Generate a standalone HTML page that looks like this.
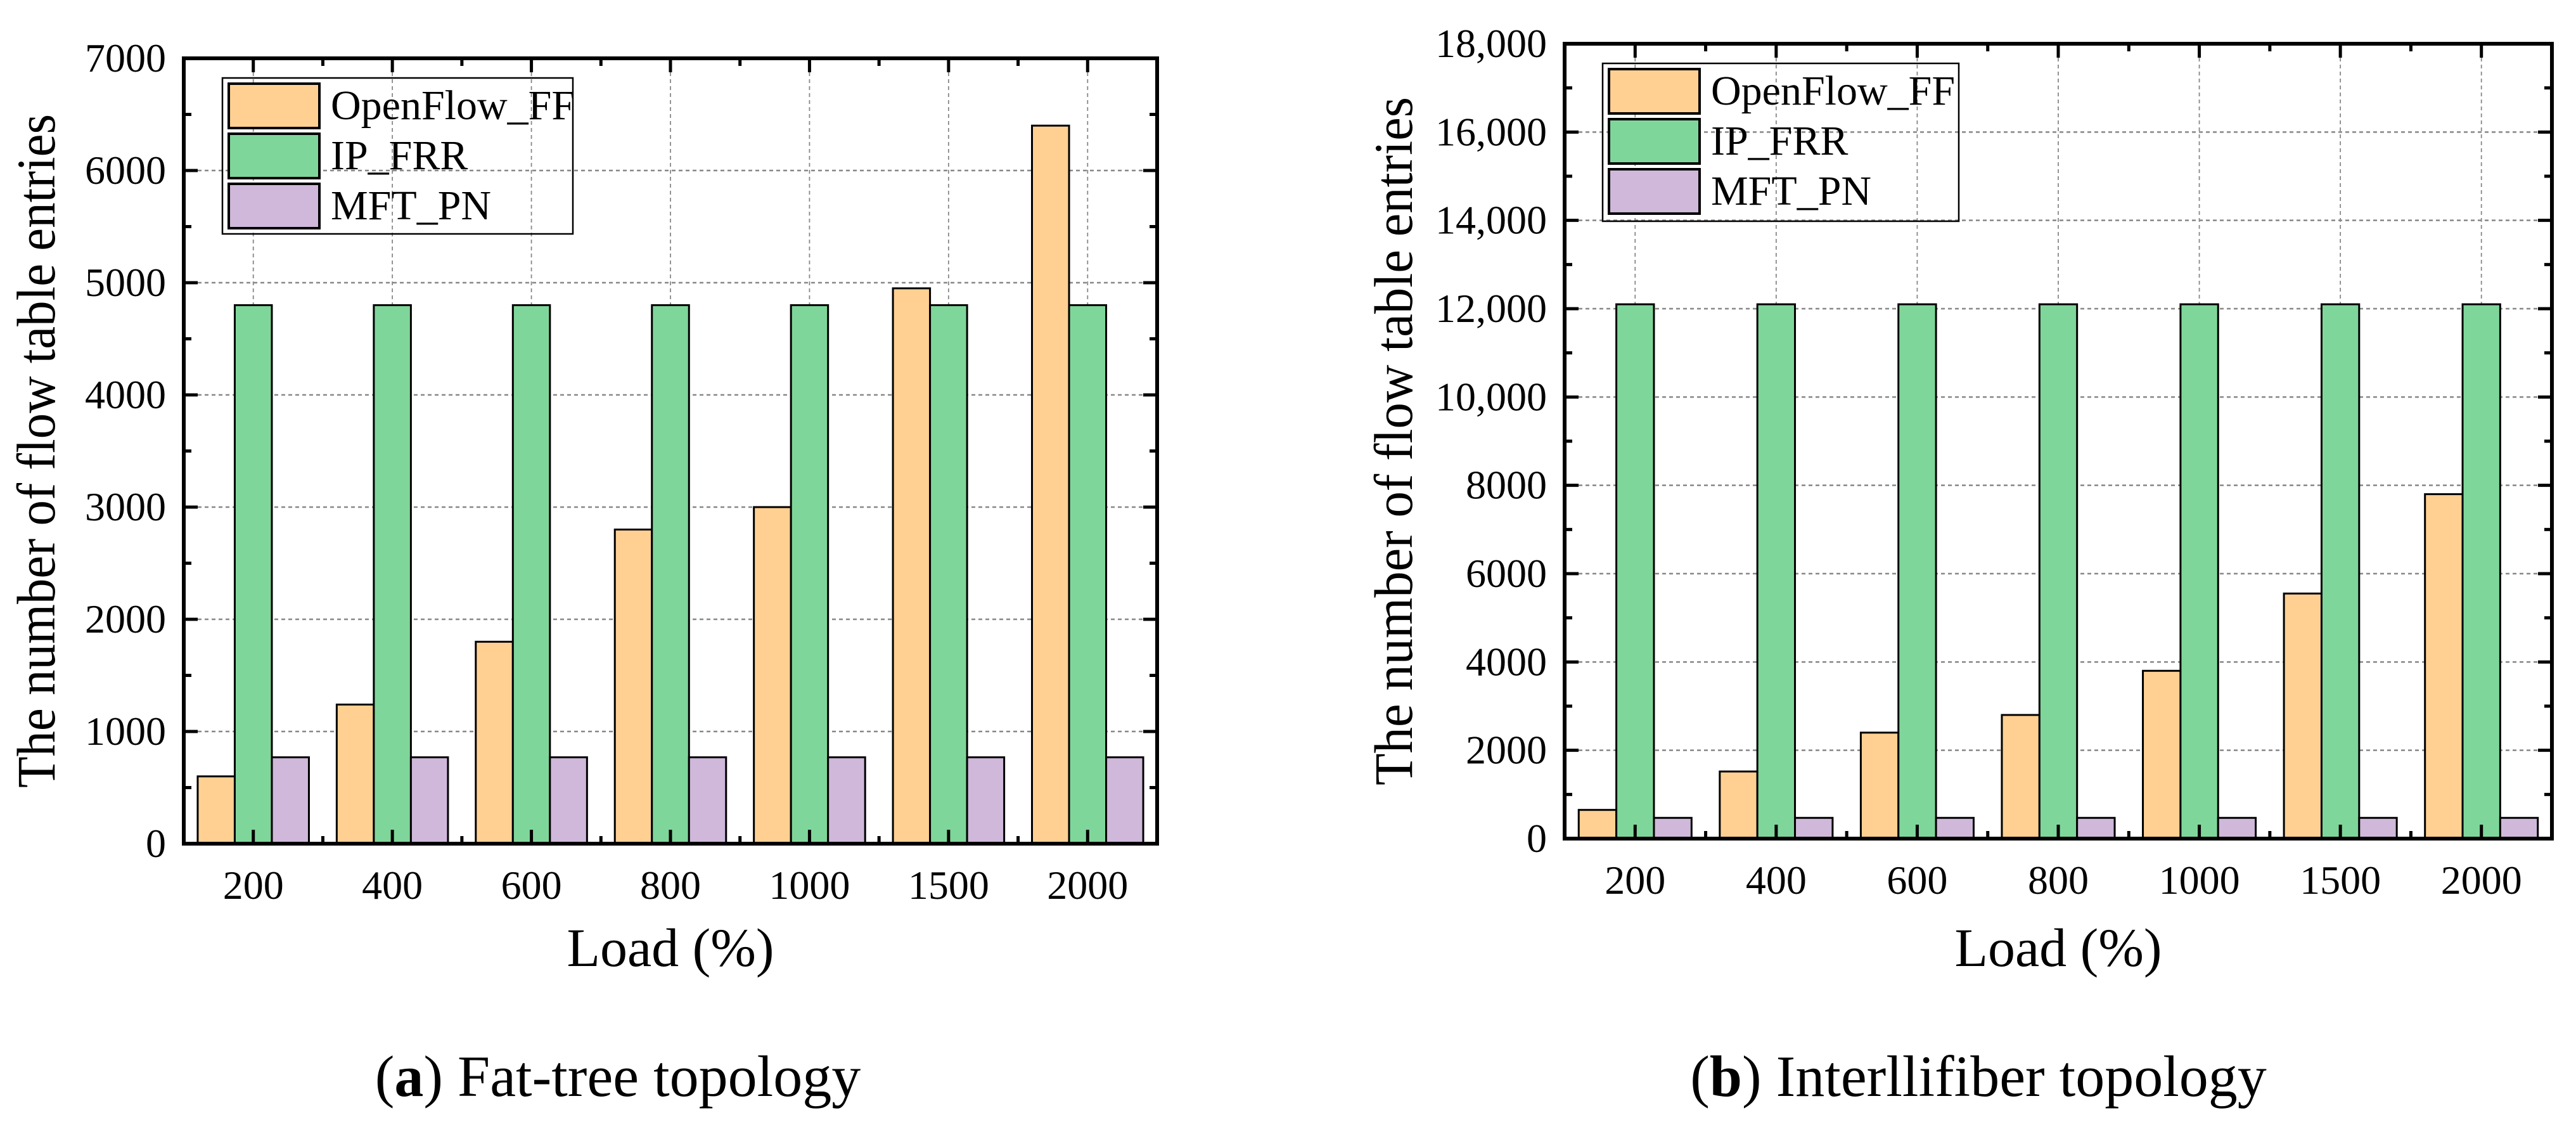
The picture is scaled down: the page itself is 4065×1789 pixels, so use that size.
<!DOCTYPE html>
<html><head><meta charset="utf-8"><style>
html,body{margin:0;padding:0;background:#fff;}
svg{display:block;}
text{font-family:"Liberation Serif","Times New Roman",serif;}
</style></head><body>
<svg id="fig" width="4065" height="1789" viewBox="0 0 4065 1789" xmlns="http://www.w3.org/2000/svg" font-family="'Liberation Serif', 'Times New Roman', serif"></svg>
<script>
// ---- Data ----
const categories = ["200","400","600","800","1000","1500","2000"];
const seriesNames = ["OpenFlow_FF","IP_FRR","MFT_PN"];
const seriesColors = ["#FFD092","#7FD69A","#CFB8DA"];
const aOpenFlowFF = [600,1240,1800,2800,3000,4950,6400];
const aIPFRR = [4800,4800,4800,4800,4800,4800,4800];
const aMFTPN = [770,770,770,770,770,770,770];
const aTickValues = [0,1000,2000,3000,4000,5000,6000,7000];
const aTickLabels = ["0","1000","2000","3000","4000","5000","6000","7000"];
const bOpenFlowFF = [650,1520,2400,2800,3800,5550,7800];
const bIPFRR = [12100,12100,12100,12100,12100,12100,12100];
const bMFTPN = [470,470,470,470,470,470,470];
const bTickValues = [0,2000,4000,6000,8000,10000,12000,14000,16000,18000];
const bTickLabels = ["0","2000","4000","6000","8000","10,000","12,000","14,000","16,000","18,000"];

const NS="http://www.w3.org/2000/svg";
const FONT="Liberation Serif, Times New Roman, serif";
const svg=document.getElementById('fig');
function mk(tag,attrs,parent){const e=document.createElementNS(NS,tag);for(const k in attrs)e.setAttribute(k,attrs[k]);if(tag==='text')e.setAttribute('font-family',FONT);(parent||svg).appendChild(e);return e;}

function drawChart(id,L,R,T,B,ymax,series,tickVals,tickLabels,legend,titleX,titleLen,capX,capBold,capRest){
  const g=mk('g',{});
  
  
  const n=categories.length, step=(R-L)/n;
  const xc=i=>L+step*(i+0.5);
  const y=v=>B-(v/ymax)*(B-T);
  tickVals.forEach((v,i)=>{ if(i===0||i===tickVals.length-1) return;
    const l=mk('line',{x1:L,x2:R,y1:y(v),y2:y(v),stroke:'#888','stroke-width':2.5,'stroke-dasharray':'6 5'},g);
    
    
  });
  categories.forEach((c,i)=>{
    const l=mk('line',{x1:xc(i),x2:xc(i),y1:T,y2:B,stroke:'#888','stroke-width':1.8,'stroke-dasharray':'6 5'},g);
    
    
  });
  const bw=step*0.8/3;
  series.forEach((vals,s)=>{
    vals.forEach((v,i)=>{
      const x0=xc(i)-1.5*bw+s*bw;
      const r=mk('rect',{x:x0,y:y(v),width:bw,height:B-y(v),fill:seriesColors[s],stroke:'#000','stroke-width':3},g);
      
      
    });
  });
  const tk=mk('g',{stroke:'#000','stroke-width':5},g);
  
  
  for(let i=0;i<=n;i++){
    const xm=L+step*i;
    if(i>0&&i<n){mk('line',{x1:xm,x2:xm,y1:B,y2:B-12},tk);mk('line',{x1:xm,x2:xm,y1:T,y2:T+12},tk);}
    if(i<n){mk('line',{x1:xc(i),x2:xc(i),y1:B,y2:B-22},tk);mk('line',{x1:xc(i),x2:xc(i),y1:T,y2:T+22},tk);}
  }
  tickVals.forEach((v,i)=>{
    mk('line',{x1:L,x2:L+22,y1:y(v),y2:y(v)},tk);mk('line',{x1:R,x2:R-22,y1:y(v),y2:y(v)},tk);
    if(i<tickVals.length-1){const vm=(v+tickVals[i+1])/2;
      mk('line',{x1:L,x2:L+12,y1:y(vm),y2:y(vm)},tk);mk('line',{x1:R,x2:R-12,y1:y(vm),y2:y(vm)},tk);}
  });
  const fr=mk('rect',{x:L,y:T,width:R-L,height:B-T,fill:'none',stroke:'#000','stroke-width':6},g);
  
  
  tickVals.forEach((v,i)=>{
    const t=mk('text',{x:L-28,y:y(v)+21,'font-size':64,'text-anchor':'end'},g);
    t.textContent=tickLabels[i];
    
    
  });
  categories.forEach((c,i)=>{
    const t=mk('text',{x:xc(i),y:B+87,'font-size':64,'text-anchor':'middle'},g);
    t.textContent=c;
    
    
  });
  const yc=(T+B)/2;
  const yt=mk('text',{x:0,y:0,'font-size':86,'text-anchor':'middle',transform:`translate(${titleX},${yc}) rotate(-90)`,textLength:titleLen,lengthAdjust:'spacingAndGlyphs'},g);
  yt.textContent='The number of flow table entries';
  
  
  const xt=mk('text',{x:(L+R)/2,y:1524,'font-size':86,'text-anchor':'middle'},g);
  xt.textContent='Load (%)';
  
  
  const lg=mk('g',{},g);
  
  
  mk('rect',{x:legend.x,y:legend.y,width:legend.w,height:legend.h,fill:'none',stroke:'#000','stroke-width':2.5},lg);
  seriesNames.forEach((nm,s)=>{
    const ry=legend.y+9+s*79;
    const e=mk('g',{},lg);
    
    
    mk('rect',{x:legend.x+10,y:ry,width:143,height:70,fill:seriesColors[s],stroke:'#000','stroke-width':4},e);
    const t=mk('text',{x:legend.x+171,y:ry+56,'font-size':66},e);
    t.textContent=nm;
  });
  const cp=mk('text',{x:capX,y:1729,'font-size':92,'text-anchor':'middle'},g);
  
  
  const b1=mk('tspan',{},cp);b1.textContent='(';
  const b2=mk('tspan',{'font-weight':'bold'},cp);b2.textContent=capBold;
  const b3=mk('tspan',{},cp);b3.textContent=') '+capRest;
}

drawChart('fat-tree',290,1826,92,1331,7000,[aOpenFlowFF,aIPFRR,aMFTPN],aTickValues,aTickLabels,
  {x:351,y:123,w:553,h:246},86,1063,975,'a','Fat-tree topology');
drawChart('interllifiber',2469,4027,69,1323,18000,[bOpenFlowFF,bIPFRR,bMFTPN],bTickValues,bTickLabels,
  {x:2529,y:100,w:562,h:249},2228,1086,3122,'b','Interllifiber topology');
</script>
</body></html>
